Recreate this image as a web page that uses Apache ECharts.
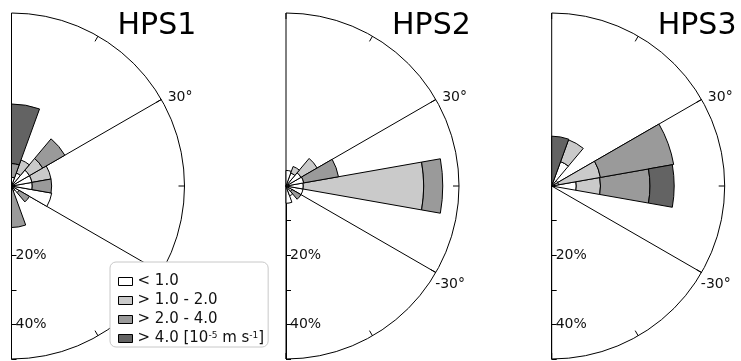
<!DOCTYPE html>
<html>
<head>
<meta charset="utf-8">
<script src="https://cdn.jsdelivr.net/npm/echarts@6/dist/echarts.min.js"></script>
<style>
  html, body { margin: 0; padding: 0; background: #fff; }
  #chart { width: 741px; height: 361px; }
</style>
</head>
<body>
<div id="chart"></div>
<script>
// Direction bins (centre angle in degrees, 20° wide), bottom to top
const bins = ['-80', '-60', '-40', '-20', '0', '20', '40', '60', '80'];

// Speed classes, innermost first
const classNames = ['< 1.0', '> 1.0 - 2.0', '> 2.0 - 4.0', '> 4.0'];
const classColors = ['#ffffff', '#cacaca', '#9a9a9a', '#636363'];

const panelTitles = ['HPS1', 'HPS2', 'HPS3'];

// Frequency (%) per bin for each speed class
const hps1White = [1, 1.5, 2.5, 11.8, 6, 6, 6, 4, 2.5];
const hps1Light = [0, 0, 0, 0, 0, 5.6, 4.4, 4, 0];
const hps1Mid   = [11, 0, 3.5, 0, 5.6, 0, 7.4, 0, 4];
const hps1Dark  = [0, 0, 0, 0, 0, 0, 0, 0, 17.2];

const hps2White = [5, 3, 2, 5, 5, 5.2, 5, 4, 4.5];
const hps2Light = [0, 0, 0, 0, 34.8, 0, 5.4, 2, 0];
const hps2Mid   = [0, 0, 3, 0, 5.5, 10.2, 0, 0, 0];
const hps2Dark  = [0, 0, 0, 0, 0, 0, 0, 0, 0];

const hps3White = [0, 0, 0, 0, 7.1, 2, 2, 7.5, 1];
const hps3Light = [0, 0, 0, 0, 7, 12.3, 0, 6.7, 0];
const hps3Mid   = [0, 0, 0, 0, 14.3, 21.5, 0, 0, 0];
const hps3Dark  = [0, 0, 0, 0, 7, 0, 0, 0, 13.4];

const panels = [
  [hps1White, hps1Light, hps1Mid, hps1Dark],
  [hps2White, hps2Light, hps2Mid, hps2Dark],
  [hps3White, hps3Light, hps3Mid, hps3Dark]
];

// Radial axis ticks and angle labels
const radiusTicks = [0, 10, 20, 30, 40, 50];
const radiusLabels = [20, 40];
const angleLabels = [30, -30];

const centersX = [11.5, 286, 551.7];
const centerY = 186;
const R = 173;
const font = 'DejaVu Sans';

const polar = [];
const angleAxis = [];
const radiusAxis = [];
const series = [];
const title = [];

// polar 0..2: sectors (category angle axis); polar 3..5: frame (value angle axis)
centersX.forEach(function (cx, i) {
  polar.push({ center: [cx, centerY], radius: R });
  angleAxis.push({
    polarIndex: i, type: 'category', data: bins,
    startAngle: -90, endAngle: 90, clockwise: false,
    boundaryGap: true,
    axisLine: { show: false }, axisTick: { show: false },
    axisLabel: { show: false }, splitLine: { show: false }
  });
  radiusAxis.push({
    polarIndex: i, type: 'value', min: radiusTicks[0], max: radiusTicks[radiusTicks.length - 1],
    axisLine: { show: false }, axisTick: { show: false },
    axisLabel: { show: false }, splitLine: { show: false }
  });
});

centersX.forEach(function (cx, i) {
  polar.push({ center: [cx, centerY], radius: R });
  angleAxis.push({
    polarIndex: i + 3, type: 'value', min: -90, max: 90, interval: 60,
    startAngle: -90, endAngle: 90, clockwise: false,
    axisLine: { show: true, lineStyle: { color: '#000', width: 1 } },
    axisTick: { show: true, inside: true, length: 6, lineStyle: { color: '#000' } },
    minorTick: { show: true, splitNumber: 2, length: 6, lineStyle: { color: '#000', width: 1 } },
    axisLabel: {
      show: true, margin: -10, color: '#111', fontSize: 14, fontFamily: font,
      formatter: function (v) {
        if (angleLabels.indexOf(v) < 0) return '';
        return (v > 0 ? '{up|' : '{dn|') + v + '°}';
      },
      rich: {
        up: { fontSize: 14, fontFamily: font, color: '#111', padding: [0, 0, 0, 15] },
        dn: { fontSize: 14, fontFamily: font, color: '#111', padding: [10, 0, 0, 8] }
      }
    },
    splitLine: { show: true, lineStyle: { color: '#000', width: 1 } },
    z: 1
  });
  radiusAxis.push({
    polarIndex: i + 3, type: 'value', min: radiusTicks[0], max: radiusTicks[radiusTicks.length - 1],
    interval: radiusTicks[1] - radiusTicks[0],
    axisLine: { show: true, lineStyle: { color: '#000', width: 1 } },
    axisTick: { show: true, length: 5, lineStyle: { color: '#000' } },
    axisLabel: {
      show: true, margin: 4, color: '#111', fontSize: 14, fontFamily: font,
      formatter: function (v) { return radiusLabels.indexOf(v) >= 0 ? v + '%' : ''; }
    },
    splitLine: { show: false },
    z: 1
  });

  title.push({
    text: panelTitles[i], left: cx + 106, top: 11, padding: 0,
    textStyle: { fontFamily: font, fontSize: 30, fontWeight: 'normal', color: '#000' }
  });

  panels[i].forEach(function (vals, k) {
    series.push({
      type: 'bar', coordinateSystem: 'polar', polarIndex: i,
      name: classNames[k], stack: 'p' + i,
      barCategoryGap: '0%',
      data: vals.map(function (v) { return v > 0 ? v : '-'; }),
      itemStyle: { color: classColors[k], borderColor: '#000', borderWidth: 1 },
      emphasis: { disabled: true },
      z: 3
    });
  });
});

const chart = echarts.init(document.getElementById('chart'), null, { renderer: 'canvas' });
chart.setOption({
  animation: false,
  backgroundColor: '#fff',
  textStyle: { fontFamily: font },
  title: title,
  polar: polar,
  angleAxis: angleAxis,
  radiusAxis: radiusAxis,
  legend: {
    data: classNames,
    orient: 'vertical', left: 110, top: 262,
    padding: [12, 4, 1, 8],
    backgroundColor: '#fff',
    borderColor: '#c8c8c8', borderWidth: 1, borderRadius: 6,
    itemWidth: 14, itemHeight: 8, itemGap: 4,
    selectedMode: false,
    icon: 'rect',
    itemStyle: { borderColor: '#000', borderWidth: 1 },
    formatter: function (name) {
      return name === '> 4.0' ? '> 4.0 [10{sup|-5} m s{sup|-1}]' : name;
    },
    textStyle: {
      fontFamily: font, fontSize: 15, color: '#111', lineHeight: 15,
      rich: { sup: { fontSize: 9, verticalAlign: 'top', lineHeight: 10, color: '#111' } }
    },
    z: 10
  },
  series: series
});
</script>
</body>
</html>
